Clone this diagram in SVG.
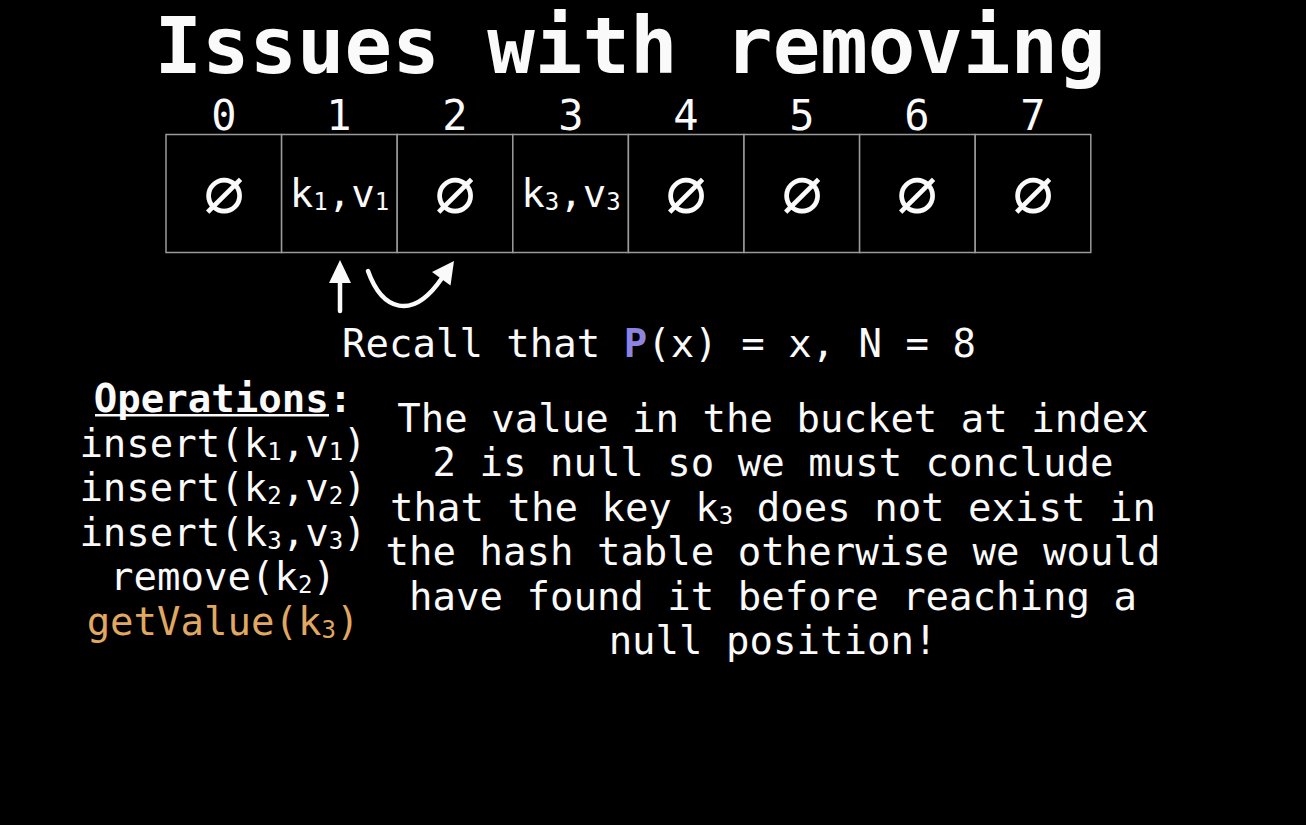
<svg xmlns="http://www.w3.org/2000/svg" width="1306" height="825" viewBox="0 0 1306 825">
<style>
text{font-family:"DejaVu Sans Mono","Liberation Mono",monospace;fill:#fafafa}
.t{font-size:79px;font-weight:bold}
.idx{font-size:42px}
.c{font-size:39px}
.nul{font-size:68px}
.s{font-size:24px}
.cell{fill:#000;stroke:#9a9a9a;stroke-width:1.5}
.arr{stroke:#fafafa;fill:none;stroke-width:4.5;stroke-linecap:round}
.head{fill:#fafafa}
</style>
<rect width="1306" height="825" fill="#000"/>
<text id="title" class="t" x="630" y="73" text-anchor="middle">Issues with removing</text>
<g id="indices" class="idx" text-anchor="middle">
<text x="224" y="130" class="idx">0</text>
<text x="339" y="130" class="idx">1</text>
<text x="455" y="130" class="idx">2</text>
<text x="571" y="130" class="idx">3</text>
<text x="686" y="130" class="idx">4</text>
<text x="802" y="130" class="idx">5</text>
<text x="917" y="130" class="idx">6</text>
<text x="1033" y="130" class="idx">7</text>
</g>
<g id="cell0"><rect class="cell" x="166" y="134.5" width="115.6" height="118"/><text class="nul" x="224" y="217" text-anchor="middle">∅</text></g>
<g id="cell1"><rect class="cell" x="281.6" y="134.5" width="115.6" height="118"/><text class="c" x="339.5" y="207" text-anchor="middle">k<tspan class="s" dy="3">1</tspan><tspan dy="-3">,v</tspan><tspan class="s" dy="3">1</tspan></text></g>
<g id="cell2"><rect class="cell" x="397.2" y="134.5" width="115.6" height="118"/><text class="nul" x="455" y="217" text-anchor="middle">∅</text></g>
<g id="cell3"><rect class="cell" x="512.8" y="134.5" width="115.6" height="118"/><text class="c" x="571" y="207" text-anchor="middle">k<tspan class="s" dy="3">3</tspan><tspan dy="-3">,v</tspan><tspan class="s" dy="3">3</tspan></text></g>
<g id="cell4"><rect class="cell" x="628.4" y="134.5" width="115.6" height="118"/><text class="nul" x="686" y="217" text-anchor="middle">∅</text></g>
<g id="cell5"><rect class="cell" x="744" y="134.5" width="115.6" height="118"/><text class="nul" x="802" y="217" text-anchor="middle">∅</text></g>
<g id="cell6"><rect class="cell" x="859.6" y="134.5" width="115.6" height="118"/><text class="nul" x="917" y="217" text-anchor="middle">∅</text></g>
<g id="cell7"><rect class="cell" x="975.2" y="134.5" width="115.6" height="118"/><text class="nul" x="1033" y="217" text-anchor="middle">∅</text></g>
<g id="connectors">
<line class="arr" x1="340" y1="278" x2="340" y2="311" stroke-linecap="butt"/>
<polygon class="head" points="340,260 351,283 329,283"/>
<path class="arr" d="M368 271 C382 310 412 322 442 278"/>
<polygon class="head" points="454,261 450.5,285.5 432,272"/>
</g>
<text id="recall" class="c" x="659" y="357" text-anchor="middle">Recall that <tspan font-weight="bold" fill="#8c84e0" style="fill:#8c84e0">P</tspan>(x) = x, N = 8</text>
<g id="operations" class="c" text-anchor="middle">
<text class="c" x="223" y="412" font-weight="bold">Operations:</text>
<rect x="95" y="414" width="234" height="2.5" fill="#fafafa"/>
<text class="c" x="223" y="457">insert(k<tspan class="s" dy="3">1</tspan><tspan dy="-3">,v</tspan><tspan class="s" dy="3">1</tspan><tspan dy="-3">)</tspan></text>
<text class="c" x="223" y="501">insert(k<tspan class="s" dy="3">2</tspan><tspan dy="-3">,v</tspan><tspan class="s" dy="3">2</tspan><tspan dy="-3">)</tspan></text>
<text class="c" x="223" y="546">insert(k<tspan class="s" dy="3">3</tspan><tspan dy="-3">,v</tspan><tspan class="s" dy="3">3</tspan><tspan dy="-3">)</tspan></text>
<text class="c" x="223" y="590">remove(k<tspan class="s" dy="3">2</tspan><tspan dy="-3">)</tspan></text>
<text class="c" x="223" y="635" style="fill:#e0a860">getValue(k<tspan class="s" dy="3" style="fill:#e0a860">3</tspan><tspan dy="-3" style="fill:#e0a860">)</tspan></text>
</g>
<g id="explanation" text-anchor="middle">
<text class="c" x="773" y="432">The value in the bucket at index</text>
<text class="c" x="773" y="476">2 is null so we must conclude</text>
<text class="c" x="773" y="521">that the key k<tspan class="s" dy="3">3</tspan><tspan dy="-3"> does not exist in</tspan></text>
<text class="c" x="773" y="565">the hash table otherwise we would</text>
<text class="c" x="773" y="610">have found it before reaching a</text>
<text class="c" x="773" y="654">null position!</text>
</g>
</svg>
